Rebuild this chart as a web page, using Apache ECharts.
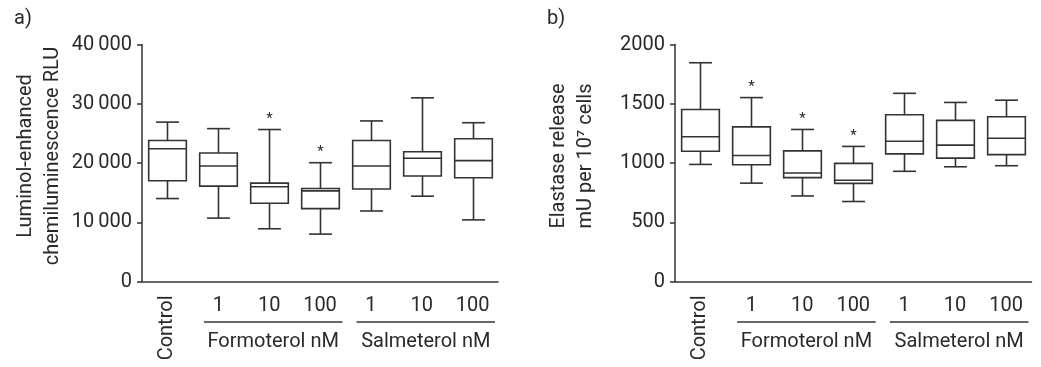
<!DOCTYPE html>
<html>
<head>
<meta charset="utf-8">
<script src="https://cdn.jsdelivr.net/npm/echarts@6/dist/echarts.min.js"></script>
<style>html,body{margin:0;padding:0;background:#fff}#c{width:1041px;height:367px}</style>
</head>
<body>
<div id="c"></div>
<script>
// ---------- data ----------
const categoryKeys = ['Control', 'F1', 'F10', 'F100', 'S1', 'S10', 'S100'];
const categoryLabels = ['Control', '1', '10', '100', '1', '10', '100'];
const groups = [
  { name: 'Formoterol nM', from: 1, to: 3 },
  { name: 'Salmeterol nM', from: 4, to: 6 }
];
// each entry: [min, Q1, median, Q3, max]
const chemiBoxes = [
  [14000, 17000, 22400, 23800, 26900],
  [10700, 16100, 19500, 21700, 25800],
  [8900, 13200, 16000, 16600, 25650],
  [8000, 12300, 15300, 15700, 20050],
  [11900, 15600, 19500, 23800, 27100],
  [14400, 17800, 20800, 21900, 31000],
  [10400, 17500, 20400, 24100, 26800]
];
const chemiStars = [false, false, true, true, false, false, false];
const elastaseBoxes = [
  [988, 1099, 1222, 1451, 1846],
  [830, 985, 1063, 1305, 1552],
  [722, 877, 915, 1102, 1283],
  [675, 828, 854, 997, 1140],
  [930, 1077, 1184, 1407, 1588],
  [968, 1041, 1151, 1360, 1511],
  [977, 1071, 1209, 1390, 1530]
];
const elastaseStars = [false, true, true, true, false, false, false];
const chemiTicks = [0, 10000, 20000, 30000, 40000];
const chemiTickLabels = ['0', '10\u2009000', '20\u2009000', '30\u2009000', '40\u2009000'];
const elastaseTicks = [0, 500, 1000, 1500, 2000];
const elastaseTickLabels = ['0', '500', '1000', '1500', '2000'];
const panelTitles = ['a)', 'b)'];
const yNames = ['Luminol-enhanced\nchemiluminescence RLU', 'Elastase release\nmU per 10\u2077 cells'];

// ---------- styles ----------
const FONT = 'Roboto';
const FS = 20;
const TXT = '#2a2a2a';
const LINE = '#333';

const chart = echarts.init(document.getElementById('c'), null, { renderer: 'canvas' });

function renderBox(params, api) {
  const x = api.value(0);
  const band = api.size([1, 0])[0];
  const bw = band * 0.74, cw = band * 0.45;
  const pMin = api.coord([x, api.value(1)]);
  const pQ1 = api.coord([x, api.value(2)]);
  const pMed = api.coord([x, api.value(3)]);
  const pQ3 = api.coord([x, api.value(4)]);
  const pMax = api.coord([x, api.value(5)]);
  const cx = Math.round(pMin[0]) + 0.5;
  const st = { stroke: LINE, lineWidth: 1.6, fill: null };
  const children = [
    { type: 'line', shape: { x1: cx, y1: pMax[1], x2: cx, y2: pQ3[1] }, style: st },
    { type: 'line', shape: { x1: cx, y1: pQ1[1], x2: cx, y2: pMin[1] }, style: st },
    { type: 'line', shape: { x1: cx - cw / 2, y1: pMax[1], x2: cx + cw / 2, y2: pMax[1] }, style: st },
    { type: 'line', shape: { x1: cx - cw / 2, y1: pMin[1], x2: cx + cw / 2, y2: pMin[1] }, style: st },
    { type: 'rect', shape: { x: cx - bw / 2, y: pQ3[1], width: bw, height: pQ1[1] - pQ3[1] }, style: { stroke: LINE, lineWidth: 1.6, fill: '#fff' } },
    { type: 'line', shape: { x1: cx - bw / 2, y1: pMed[1], x2: cx + bw / 2, y2: pMed[1] }, style: st }
  ];
  if (api.value(6)) {
    children.push({ type: 'text', style: { text: '*', x: cx, y: pMax[1] - 3, align: 'center', verticalAlign: 'bottom', fill: TXT, font: '15px ' + FONT } });
  }
  return { type: 'group', children };
}

function toData(boxes, stars) {
  return boxes.map((b, i) => [i, b[0], b[1], b[2], b[3], b[4], stars[i] ? 1 : 0]);
}

const grids = [
  { left: 142, right: 543, top: 44.5, bottom: 85.5 },
  { left: 675, right: 9.5, top: 44.5, bottom: 85.5 }
];

function xAxesFor(gi) {
  return [
    {
      type: 'category', gridIndex: gi, data: categoryKeys,
      axisLine: { lineStyle: { color: LINE, width: 1.5 } },
      axisTick: { alignWithLabel: true, length: 5, lineStyle: { color: LINE, width: 1.5 } },
      axisLabel: { margin: 14, color: TXT, fontFamily: FONT, fontSize: FS,
        formatter: (v, i) => (i === 0 ? '' : categoryLabels[i]) },
      splitLine: { show: false }
    },
    {
      type: 'category', gridIndex: gi, data: categoryKeys, position: 'bottom',
      axisLine: { show: false }, axisTick: { show: false },
      axisLabel: { margin: 14, rotate: 90, color: TXT, fontFamily: FONT, fontSize: FS,
        formatter: (v, i) => (i === 0 ? categoryLabels[0] : '') },
      splitLine: { show: false }
    }
  ];
}

function yAxisFor(gi, ticks, labels, name) {
  return {
    type: 'value', gridIndex: gi, min: ticks[0], max: ticks[ticks.length - 1],
    interval: ticks[1] - ticks[0],
    name: name, nameLocation: 'middle', nameGap: 76, nameRotate: 90,
    nameTextStyle: { color: TXT, fontFamily: FONT, fontSize: FS, lineHeight: 27, padding: [0, 0, 0, 14] },
    axisLine: { show: true, lineStyle: { color: LINE, width: 1.5 } },
    axisTick: { show: true, length: 5, lineStyle: { color: LINE, width: 1.5 } },
    axisLabel: { margin: 10, color: TXT, fontFamily: FONT, fontSize: FS,
      formatter: v => labels[ticks.indexOf(v)] },
    splitLine: { show: false }
  };
}

const option = {
  animation: false,
  backgroundColor: '#fff',
  grid: grids,
  xAxis: [...xAxesFor(0), ...xAxesFor(1)],
  yAxis: [
    yAxisFor(0, chemiTicks, chemiTickLabels, yNames[0]),
    yAxisFor(1, elastaseTicks, elastaseTickLabels, yNames[1])
  ],
  series: [
    { type: 'custom', xAxisIndex: 0, yAxisIndex: 0, renderItem: renderBox,
      encode: { x: 0, y: [1, 2, 3, 4, 5] }, data: toData(chemiBoxes, chemiStars) },
    { type: 'custom', xAxisIndex: 2, yAxisIndex: 1, renderItem: renderBox,
      encode: { x: 0, y: [1, 2, 3, 4, 5] }, data: toData(elastaseBoxes, elastaseStars) }
  ]
};
chart.setOption(option);

// group brackets & panel labels, positioned from the axes
const graphics = [];
[0, 2].forEach((xi, pi) => {
  const band = chart.convertToPixel({ xAxisIndex: xi }, 1) - chart.convertToPixel({ xAxisIndex: xi }, 0);
  const yBase = chart.convertToPixel({ yAxisIndex: pi }, 0);
  groups.forEach(g => {
    const c1 = chart.convertToPixel({ xAxisIndex: xi }, g.from);
    const c2 = chart.convertToPixel({ xAxisIndex: xi }, g.to);
    const mid = (c1 + c2) / 2 + band * 0.08;
    const half = band * 1.36;
    graphics.push({ type: 'line', shape: { x1: mid - half, y1: yBase + 40.5, x2: mid + half, y2: yBase + 40.5 },
      style: { stroke: LINE, lineWidth: 1.3 } });
    graphics.push({ type: 'text', x: mid, y: yBase + 60,
      style: { text: g.name, align: 'center', verticalAlign: 'middle', fill: TXT, font: FS + 'px ' + FONT } });
  });
  graphics.push({ type: 'text', x: pi === 0 ? 14 : 547, y: 19,
    style: { text: panelTitles[pi], align: 'left', verticalAlign: 'middle', fill: TXT, font: FS + 'px ' + FONT } });
});
chart.setOption({ graphic: graphics });
</script>
</body>
</html>
